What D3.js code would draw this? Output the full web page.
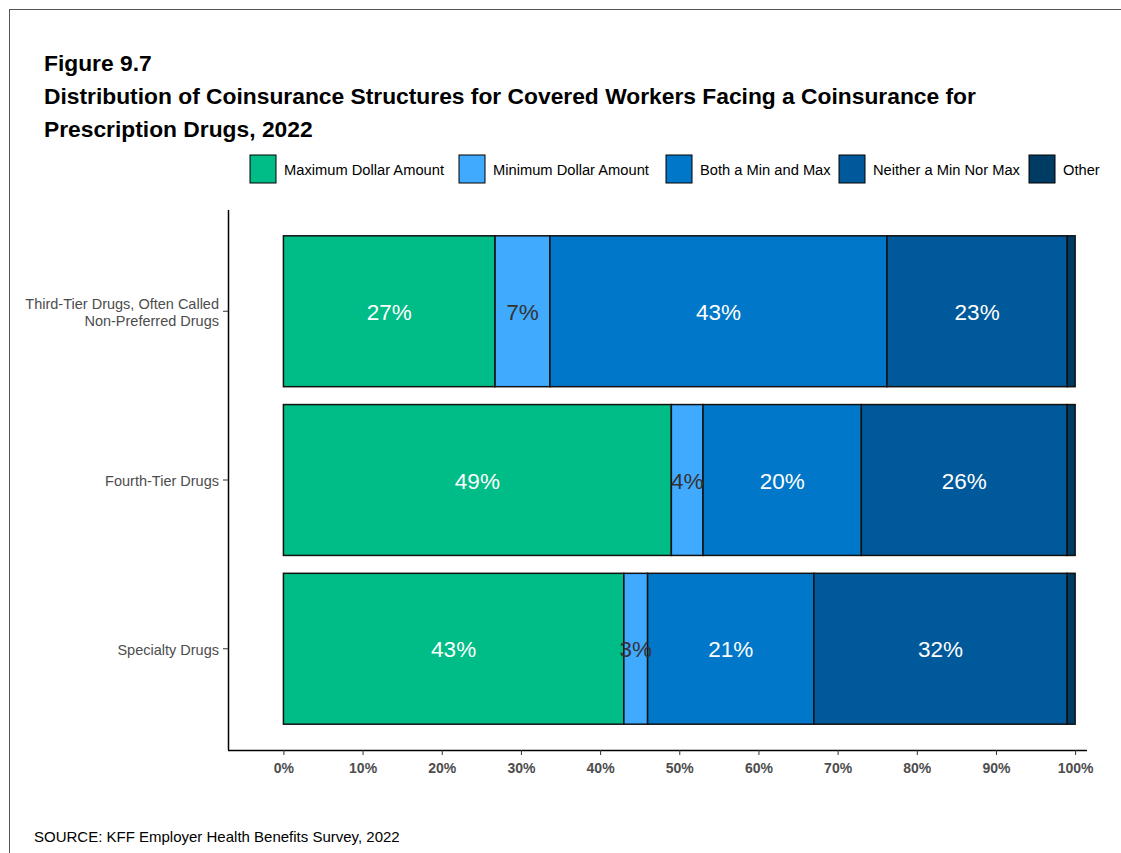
<!DOCTYPE html>
<html><head><meta charset="utf-8">
<script src="https://cdn.jsdelivr.net/npm/d3@7"></script>
<style>body{margin:0;background:#fff}svg{display:block;font-family:"Liberation Sans",Arial,sans-serif}</style>
</head><body>
<script>
const categories = ["Third-Tier Drugs, Often Called\nNon-Preferred Drugs", "Fourth-Tier Drugs", "Specialty Drugs"];
const seriesNames = ["Maximum Dollar Amount", "Minimum Dollar Amount", "Both a Min and Max", "Neither a Min Nor Max", "Other"];
const colors = ["#00BC86", "#40AAFF", "#0077C8", "#00599A", "#003B63"];
const maxAmt = [27, 49, 43];
const minAmt = [7, 4, 3];
const bothAmt = [43, 20, 21];
const neitherAmt = [23, 26, 32];
const otherAmt = [1, 1, 1];
const xTicks = [0, 0.1, 0.2, 0.3, 0.4, 0.5, 0.6, 0.7, 0.8, 0.9, 1.0];

const W = 1121, H = 853;
const svg = d3.select("body").append("svg").attr("width", W).attr("height", H);
svg.append("rect").attr("x", 9.5).attr("y", 9.5).attr("width", W + 20).attr("height", H + 20)
  .attr("fill", "none").attr("stroke", "#555").attr("stroke-width", 1);

// titles
const t = svg.append("g").attr("font-weight", "bold").attr("fill", "#000").attr("font-size", 22.8);
t.append("text").attr("x", 44).attr("y", 71).text("Figure 9.7");
t.append("text").attr("x", 44).attr("y", 104).text("Distribution of Coinsurance Structures for Covered Workers Facing a Coinsurance for");
t.append("text").attr("x", 44).attr("y", 137).text("Prescription Drugs, 2022");

// legend
const legX = [250, 459, 666, 839, 1029];
const leg = svg.append("g");
seriesNames.forEach((s, i) => {
  leg.append("rect").attr("x", legX[i]).attr("y", 155).attr("width", 26).attr("height", 28)
    .attr("fill", colors[i]).attr("stroke", "#000").attr("stroke-width", 1);
  leg.append("text").attr("x", legX[i] + 34).attr("y", 174.5).attr("font-size", 14.7).attr("fill", "#000").text(s);
});

// data
const rows = categories.map((c, i) => {
  const vals = [maxAmt[i], minAmt[i], bothAmt[i], neitherAmt[i], otherAmt[i]];
  const tot = d3.sum(vals);
  let cum = 0;
  return { cat: c, segs: vals.map((v, k) => { const s = { k, v, x0: cum / tot, x1: (cum + v) / tot }; cum += v; return s; }) };
});

const plot = { left: 228, right: 1087, top: 210, bottom: 750 };
const x = d3.scaleLinear().domain([-0.07, 1.0 + 0.015]).range([plot.left, plot.right]);
const step = (plot.bottom - plot.top) / 3.2;
const y = d3.scaleBand().domain(categories).range([plot.top + 0.6 * step - step / 2, plot.bottom - 0.6 * step + step / 2])
  .paddingInner(0.106).paddingOuter(0.053);

const g = svg.append("g");
rows.forEach(r => {
  r.segs.forEach(s => {
    g.append("rect").attr("x", x(s.x0)).attr("y", y(r.cat)).attr("width", x(s.x1) - x(s.x0)).attr("height", y.bandwidth())
      .attr("fill", colors[s.k]).attr("stroke", "#111").attr("stroke-width", 1.5);
  });
  r.segs.forEach(s => {
    if (s.k === 4) return;
    g.append("text").attr("x", (x(s.x0) + x(s.x1)) / 2).attr("y", y(r.cat) + y.bandwidth() / 2 + 8.5)
      .attr("text-anchor", "middle").attr("font-size", 22.5)
      .attr("fill", s.v < 10 ? "#333" : "#fff").text(s.v + "%");
  });
});

// axes
const ax = svg.append("g").attr("transform", `translate(0,${plot.bottom})`)
  .call(d3.axisBottom(x).tickValues(xTicks).tickFormat(d3.format(".0%")).tickSize(5).tickPadding(8));
ax.select(".domain").attr("d", `M${plot.left},0.5H${plot.right}`).attr("stroke", "#000").attr("stroke-width", 1.5);
ax.selectAll(".tick line").attr("stroke", "#333");
ax.selectAll(".tick text").attr("font-size", 14).attr("font-weight", "bold").attr("fill", "#4d4d4d");

const ay = svg.append("g").attr("transform", `translate(${plot.left},0)`)
  .call(d3.axisLeft(y).tickSize(5).tickPadding(4).tickFormat(""));
ay.select(".domain").attr("d", `M0.5,${plot.top}V${plot.bottom}`).attr("stroke", "#000").attr("stroke-width", 1.5);
ay.selectAll(".tick line").attr("stroke", "#333");
ay.selectAll(".tick").each(function(d) {
  const lines = d.split("\n");
  const tx = d3.select(this).append("text").attr("x", -9).attr("text-anchor", "end")
    .attr("font-size", 14.5).attr("fill", "#4d4d4d");
  lines.forEach((l, i) => {
    tx.append("tspan").attr("x", -9).attr("y", (i - (lines.length - 1) / 2) * 17 + 6).text(l);
  });
});

svg.append("text").attr("x", 34).attr("y", 842).attr("font-size", 15).attr("fill", "#000")
  .text("SOURCE: KFF Employer Health Benefits Survey, 2022");
</script>
</body></html>
